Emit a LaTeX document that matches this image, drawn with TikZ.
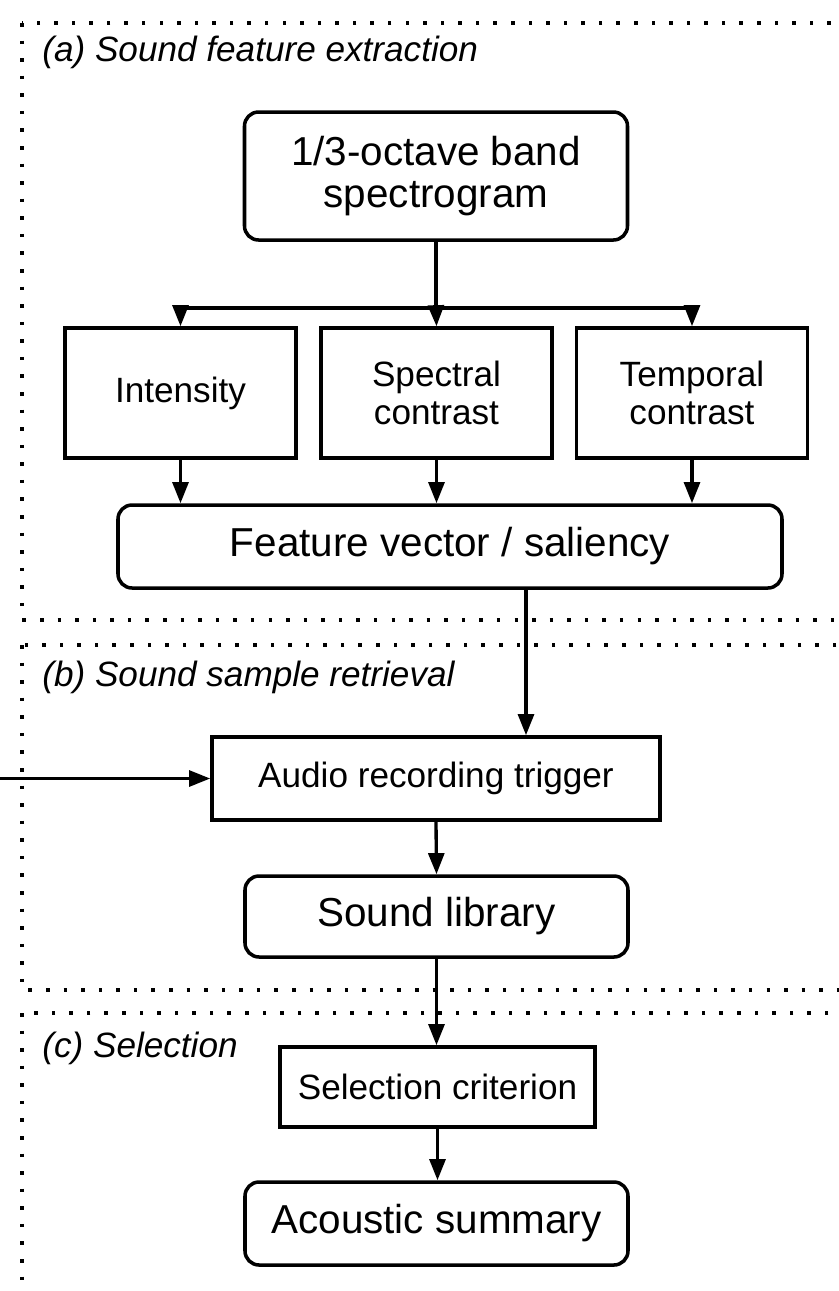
\documentclass[tikz,border=0pt]{standalone}
\usepackage{fontspec}
\setmainfont{Liberation Sans}
\usetikzlibrary{arrows.meta}

\begin{document}
\begin{tikzpicture}[
    block/.style={draw, line width=2pt, align=center, inner sep=0pt, font=\fontsize{20}{22}\selectfont},
    rblock/.style={block, rounded corners=8pt, font=\fontsize{23}{24}\selectfont},
    arr/.style={line width=1.9pt, -{Triangle[length=12pt,width=9pt]}},
    frame/.style={line width=2.2pt, dash pattern=on 2pt off 8pt},
    tag/.style={anchor=west, inner sep=0pt, font=\itshape\fontsize{20}{22}\selectfont}]
  \useasboundingbox (0,0) rectangle (16.78,-25.82);
  \clip (0,0) rectangle (16.78,-25.82);

  % dotted section frames, open to the right
  \draw[frame] (0.44,-0.46) rectangle (17.5,-12.4);
  \draw[frame] (0.44,-12.9) rectangle (17.5,-19.8);
  \draw[frame] (0.44,-20.26) rectangle (17.5,-25.85);
  \node[tag] (taga) at (0.84,-1.04) {(a) Sound feature extraction};
  \node[tag] (tagb) at (0.84,-13.54) {(b) Sound sample retrieval};
  \node[tag] (tagc) at (0.84,-20.96) {(c) Selection};

  % (a)
  \node[rblock, minimum width=7.66cm, minimum height=2.56cm] (spec) at (8.72,-3.52) {1/3-octave band\\spectrogram};
  \node[block, minimum width=4.62cm, minimum height=2.6cm] (inten) at (3.61,-7.86) {Intensity};
  \node[block, minimum width=4.62cm, minimum height=2.6cm] (spcon) at (8.73,-7.86) {Spectral\\contrast};
  \node[block, minimum width=4.62cm, minimum height=2.6cm] (tmcon) at (13.84,-7.86) {Temporal\\contrast};
  \node[rblock, minimum width=13.28cm, minimum height=1.66cm] (feat) at (9.0,-10.93) {Feature vector / saliency};
  \coordinate (br) at (8.72,-6.16);
  \draw[line width=1.9pt] (spec.south) -- (br);
  \draw[arr] (br) -| (inten.north);
  \draw[arr] (br) -- (spcon.north);
  \draw[arr] (br) -| (tmcon.north);
  \draw[arr] (inten.south) -- (inten.south |- feat.north);
  \draw[arr] (spcon.south) -- (spcon.south |- feat.north);
  \draw[arr] (tmcon.south) -- (tmcon.south |- feat.north);

  % (b)
  \node[block, minimum width=8.96cm, minimum height=1.66cm] (trig) at (8.72,-15.57) {Audio recording trigger};
  \node[rblock, minimum width=7.66cm, minimum height=1.62cm] (lib) at (8.73,-18.33) {Sound library};
  \coordinate (fv) at (10.52,-10.93);
  \coordinate (ext) at (0,-15.57);
  \draw[arr] (fv |- feat.south) -- (fv |- trig.north);
  \draw[arr] (ext) -- (trig.west);
  \draw[arr] (trig.south) -- (lib.north);

  % (c)
  \node[block, minimum width=6.3cm, minimum height=1.6cm] (sel) at (8.75,-21.74) {Selection criterion};
  \node[rblock, minimum width=7.66cm, minimum height=1.66cm] (summ) at (8.73,-24.47) {Acoustic summary};
  \draw[arr] (lib.south) -- (lib.south |- sel.north);
  \draw[arr] (sel.south) -- (sel.south |- summ.north);
\end{tikzpicture}
\end{document}
